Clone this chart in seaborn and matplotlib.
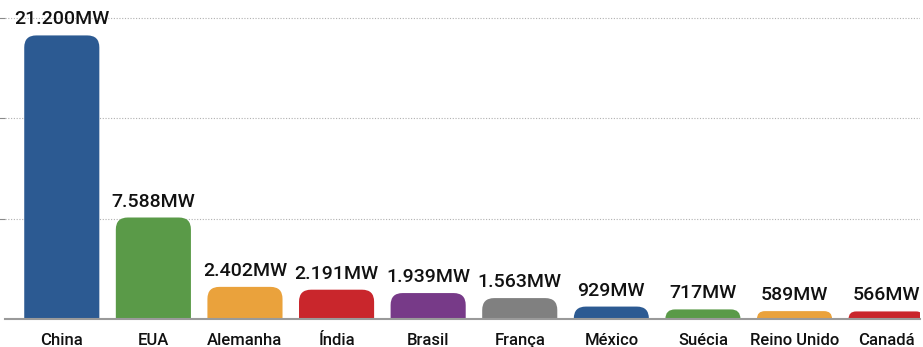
import pandas as pd
import seaborn as sns
import matplotlib.pyplot as plt
from matplotlib.patches import FancyBboxPatch

# Data (installed wind power, MW)
paises = ["China", "EUA", "Alemanha", "Índia", "Brasil",
          "França", "México", "Suécia", "Reino Unido", "Canadá"]
potencia = [21200, 7588, 2402, 2191, 1939, 1563, 929, 717, 589, 566]
rotulos = ["21.200MW", "7.588MW", "2.402MW", "2.191MW", "1.939MW",
           "1.563MW", "929MW", "717MW", "589MW", "566MW"]
cores = ["#2c5a92", "#5a9a48", "#eaa23c", "#c9262c", "#773a88",
         "#808080", "#2c5a92", "#5a9a48", "#eaa23c", "#c9262c"]
grade = [7500, 15000, 22500]

df = pd.DataFrame({"pais": paises, "mw": potencia})

sns.set_style("white")
plt.rcParams["font.family"] = ["Roboto", "DejaVu Sans"]

fig = plt.figure(figsize=(9.23, 3.47), dpi=100)
ax = fig.add_axes([5 / 923, 28 / 347, 915 / 923, 311 / 347])

sns.barplot(data=df, x="pais", y="mw", hue="pais", palette=cores,
            legend=False, width=0.82, saturation=1, ax=ax)

ax.set_xlim(-0.62, 9.37)
ax.set_ylim(0, 23250)

# replace the flat bars with bars rounded on top
px_x = ax.transData.transform((1, 0))[0] - ax.transData.transform((0, 0))[0]
px_y = ax.transData.transform((0, 1000))[1] - ax.transData.transform((0, 0))[1]
px_y = px_y / 1000
aspect = px_x / px_y
for p in list(ax.patches):
    x0, w, h = p.get_x(), p.get_width(), p.get_height()
    cor = p.get_facecolor()
    p.remove()
    r_px = min(12, h * px_y)
    r = r_px / px_x
    extra = r_px / px_y
    box = FancyBboxPatch((x0, -extra), w, h + extra,
                         boxstyle=f"round,pad=0,rounding_size={r}",
                         mutation_aspect=aspect, facecolor=cor,
                         edgecolor="none", zorder=2)
    ax.add_patch(box)

for i, (v, t) in enumerate(zip(potencia, rotulos)):
    ax.annotate(t, (i, v), xytext=(0, 5), textcoords="offset points",
                ha="center", va="bottom", fontsize=14, color="#111111",
                fontweight="medium")

ax.set_yticks(grade)
ax.set_yticklabels([])
ax.yaxis.grid(True, linestyle=(0, (1, 1.5)), color="#b0b0b0", linewidth=0.8)
ax.set_axisbelow(True)
ax.tick_params(axis="y", left=True, length=6, color="#8a8a8a", width=0.8)
ax.tick_params(axis="x", length=0, pad=10, labelsize=12, labelcolor="#111111")
for lab in ax.get_xticklabels():
    lab.set_fontweight("medium")
ax.set_xlabel("")
ax.set_ylabel("")
for s in ["left", "right", "top"]:
    ax.spines[s].set_visible(False)
ax.spines["bottom"].set_color("#9a9a9a")
ax.spines["bottom"].set_linewidth(1.5)
ax.spines["bottom"].set_zorder(3)

fig.savefig("out.png", dpi=100)
